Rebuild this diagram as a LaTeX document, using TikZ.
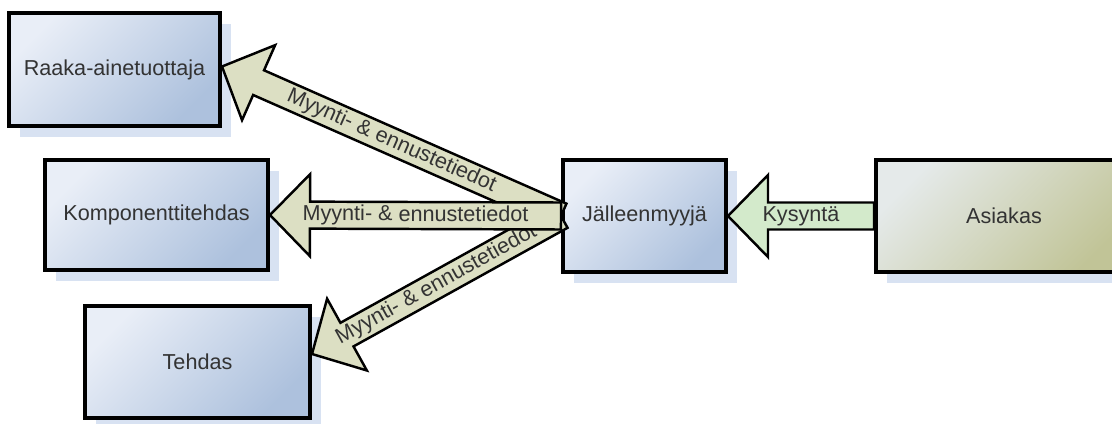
\documentclass[tikz,border=0pt]{standalone}
\usepackage{fontspec}
\setmainfont{Liberation Sans}
\usetikzlibrary{calc,shadows}
\definecolor{BoxLight}{HTML}{E9EEF7}
\definecolor{BoxDark}{HTML}{ADC1DD}
\definecolor{OliveLight}{HTML}{E5EAEA}
\definecolor{OliveDark}{HTML}{C1C497}
\definecolor{ShadowBlue}{HTML}{D8E2F2}
\definecolor{Beige}{HTML}{DCDFC3}
\definecolor{Mint}{HTML}{D3EACB}
\definecolor{Ink}{HTML}{333333}
\newcommand{\arrhead}{0.8cm}
\newcommand{\arrwing}{0.82cm}
\newcommand{\arrshaft}{0.27cm}
% fat arrow from #2 to #3, filled #1, label #4 along it
\newcommand{\blockarrow}[4]{%
  \draw[arrowbody,fill=#1] ($(#2)!\arrshaft!-90:(#3)$)
    -- ($(#3)!\arrhead!(#2)!\arrshaft!90:(#2)$)
    -- ($(#3)!\arrhead!(#2)!\arrwing!90:(#2)$)
    -- (#3)
    -- ($(#3)!\arrhead!(#2)!\arrwing!-90:(#2)$)
    -- ($(#3)!\arrhead!(#2)!\arrshaft!-90:(#2)$)
    -- ($(#2)!\arrshaft!90:(#3)$) -- cycle;
  \path (#2) -- (#3) node[midway,sloped,arrowlabel] {#4};}
\begin{document}
\begin{tikzpicture}[x=0.02cm,y=-0.02cm,
  every node/.style={font=\fontsize{12.3}{14}\selectfont,text=Ink},
  box/.style={draw=black,line width=2.3pt,minimum height=2.24cm,
    top color=BoxLight,bottom color=BoxDark,shading angle=45,
    drop shadow={shadow xshift=0.22cm,shadow yshift=-0.22cm,fill=ShadowBlue,opacity=1}},
  arrowbody/.style={draw=black,line width=1.4pt,line join=miter},
  arrowlabel/.style={inner sep=1pt}]
\useasboundingbox (0,0) rectangle (1112,423);
\clip (0,0) rectangle (1112,423);
\node[box,minimum width=4.22cm,minimum height=2.26cm] (raaka) at (114.5,69.5) {Raaka-ainetuottaja};
\node[box,minimum width=4.46cm,minimum height=2.2cm] (komp) at (156.5,215) {Komponenttitehdas};
\node[box,minimum width=4.5cm] (tehdas) at (197.5,362) {Tehdas};
\node[box,minimum width=3.26cm] (jal) at (644.5,216) {Jälleenmyyjä};
\node[box,minimum width=5.12cm,top color=OliveLight,bottom color=OliveDark,shading angle=45] (asiakas) at (1004,216) {Asiakas};
\coordinate (raatip) at ($(raaka.east)+(0,-3)$);
\coordinate (tehtip) at ($(tehdas.east)+(0,-8)$);
\blockarrow{Beige}{jal.west}{raatip}{Myynti- \& ennustetiedot}
\blockarrow{Beige}{jal.west}{tehtip}{Myynti- \& ennustetiedot}
\blockarrow{Beige}{jal.west}{komp.east}{Myynti- \& ennustetiedot}
\blockarrow{Mint}{asiakas.west}{jal.east}{Kysyntä}
\end{tikzpicture}
\end{document}
